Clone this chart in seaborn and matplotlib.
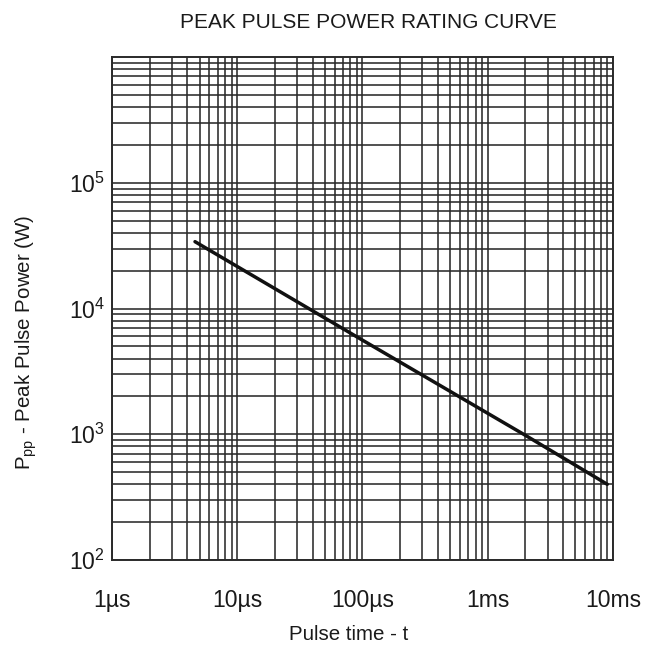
import matplotlib

matplotlib.use("Agg")

import matplotlib.pyplot as plt
import numpy as np
import pandas as pd
import seaborn as sns
from matplotlib.ticker import FixedFormatter, FixedLocator, LogLocator, NullFormatter

# values
pulse_time_s = [4.6e-6, 1e-4, 2e-3, 9e-3]
peak_power_w = [34000, 5600, 980, 400]

x_ticks = [1e-6, 1e-5, 1e-4, 1e-3, 1e-2]
x_labels = ["1µs", "10µs", "100µs", "1ms", "10ms"]
y_ticks = [1e2, 1e3, 1e4, 1e5]
y_labels = [r"$\mathregular{10^{2}}$", r"$\mathregular{10^{3}}$",
            r"$\mathregular{10^{4}}$", r"$\mathregular{10^{5}}$"]

GRID = "#2a2a2a"

sns.set_theme(style="white")
plt.rcParams["font.family"] = ["Liberation Sans", "DejaVu Sans"]
plt.rcParams["mathtext.fontset"] = "custom"
plt.rcParams["mathtext.rm"] = "Liberation Sans"
plt.rcParams["mathtext.it"] = "Liberation Sans:italic"
plt.rcParams["mathtext.bf"] = "Liberation Sans:bold"

df = pd.DataFrame({"t": pulse_time_s, "p": peak_power_w})

fig = plt.figure(figsize=(6.54, 6.46), dpi=100)
ax = fig.add_axes([112 / 654, 1 - 560 / 646, 501 / 654, 503 / 646])

sns.lineplot(data=df, x="t", y="p", color="#111111", linewidth=2.5, ax=ax, zorder=5)

ax.set_xscale("log")
ax.set_yscale("log")
ax.set_xlim(1e-6, 1e-2)
ax.set_ylim(1e2, 1e6)

ax.xaxis.set_major_locator(FixedLocator(x_ticks))
ax.xaxis.set_major_formatter(FixedFormatter(x_labels))
ax.yaxis.set_major_locator(FixedLocator(y_ticks))
ax.yaxis.set_major_formatter(FixedFormatter(y_labels))
for axis in (ax.xaxis, ax.yaxis):
    axis.set_minor_locator(LogLocator(base=10, subs=np.arange(2, 10)))
    axis.set_minor_formatter(NullFormatter())

ax.grid(which="both", color=GRID, linewidth=1.15)
ax.set_axisbelow(True)
for side in ax.spines.values():
    side.set_color(GRID)
    side.set_linewidth(1.4)

ax.tick_params(axis="both", which="both", length=0, colors="#1a1a1a", labelsize=16.5)
ax.tick_params(axis="x", pad=21)
ax.tick_params(axis="y", pad=5)

ax.set_xlabel("")
ax.set_ylabel("")
fig.text(368 / 654, 1 - 23 / 646, "PEAK PULSE POWER RATING CURVE",
         ha="center", va="center", fontsize=15, color="#1a1a1a")
fig.text(349 / 654, 1 - 634 / 646, "Pulse time - t",
         ha="center", va="center", fontsize=14.8, color="#1a1a1a")
fig.text(26 / 654, 1 - 342 / 646, r"$\mathregular{P_{pp}}$ - Peak Pulse Power (W)",
         ha="center", va="center", rotation=90, fontsize=14.8, color="#1a1a1a")

fig.savefig("out.png", dpi=100, facecolor="white")
plt.close(fig)
